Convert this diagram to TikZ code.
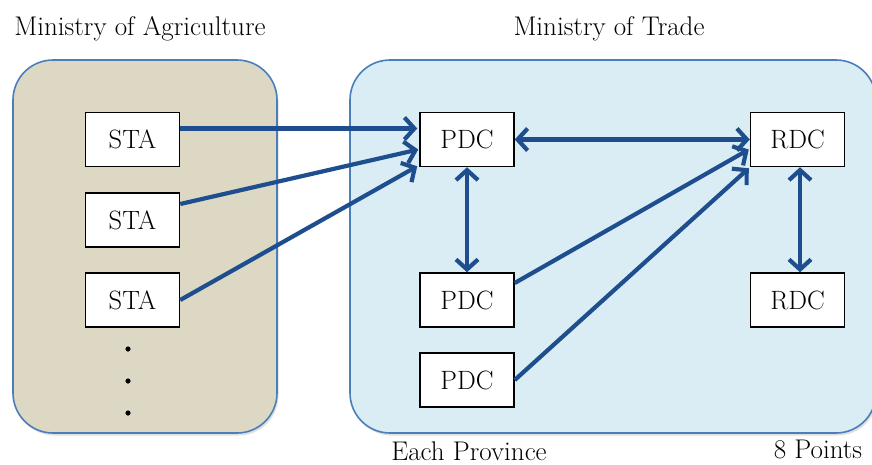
\documentclass[tikz,border=0pt]{standalone}
\usetikzlibrary{arrows.meta,shadows}
\definecolor{panelTan}{HTML}{DDD8C4}
\definecolor{panelBlue}{HTML}{DAEDF4}
\definecolor{panelEdge}{HTML}{4A7EBB}
\definecolor{flowBlue}{HTML}{1F4E8F}
\begin{document}
\begin{tikzpicture}[x=1pt,y=-1pt,
  panel/.style={draw=panelEdge,line width=1.6pt,rounded corners=40pt,
    drop shadow={opacity=0.25,shadow xshift=1.5pt,shadow yshift=-2.5pt}},
  unit/.style={draw=black,line width=1.5pt,fill=white,minimum width=94pt,
    minimum height=54pt,inner sep=0pt,font=\fontsize{26.5}{29}\selectfont},
  caption/.style={anchor=base,inner sep=0pt,font=\fontsize{27}{30}\selectfont},
  flow/.style={draw=flowBlue,line width=4.2pt,
    -{Straight Barb[length=10pt,width=22pt]}},
  flow2/.style={flow,{Straight Barb[length=10pt,width=22pt]}-{Straight Barb[length=10pt,width=22pt]}}
]
\useasboundingbox (0,0) rectangle (872,464);
\begin{scope}
\clip (0,0) rectangle (872,464);
% ministry panels
\path[panel,fill=panelTan] (13,60) rectangle (277,433);
\path[panel,fill=panelBlue] (350,60) rectangle (876,433);
\end{scope}

% captions
\node[caption] (agri) at (140,35) {Ministry of Agriculture};
\node[caption] (trade) at (609,35) {Ministry of Trade};
\node[caption] (prov) at (469,460) {Each Province};
\node[caption] (pts) at (818,458) {8 Points};

% agricultural stations
\node[unit] (s1) at (132.5,139.5) {STA};
\node[unit] (s2) at (132.5,220) {STA};
\node[unit] (s3) at (132.5,300) {STA};
\fill (128,349) circle (2.6pt) (128,381) circle (2.6pt) (128,413) circle (2.6pt);

% distribution centres
\node[unit] (p1) at (467,139.5) {PDC};
\node[unit] (p2) at (467,300) {PDC};
\node[unit] (p3) at (467,380) {PDC};
\node[unit] (r1) at (797.5,139.5) {RDC};
\node[unit] (r2) at (797.5,300) {RDC};

% flows
\draw[flow] ([yshift=11pt]s1.east) -- ([yshift=11pt,xshift=-2pt]p1.west);
\draw[flow] ([yshift=16pt]s2.east) -- ([yshift=-10pt,xshift=-1pt]p1.west);
\draw[flow] (s3.east) -- ([yshift=1pt,xshift=-2pt]p1.south west);
\draw[flow2] (p1.east) -- (r1.west);
\draw[flow2] (p1.south) -- (p2.north);
\draw[flow2] ([xshift=2.5pt]r1.south) -- ([xshift=2.5pt]r2.north);
\draw[flow] ([yshift=17pt]p2.east) -- ([yshift=-10pt,xshift=-1pt]r1.west);
\draw[flow] (p3.east) -- ([yshift=-1pt,xshift=-1pt]r1.south west);
\end{tikzpicture}
\end{document}
